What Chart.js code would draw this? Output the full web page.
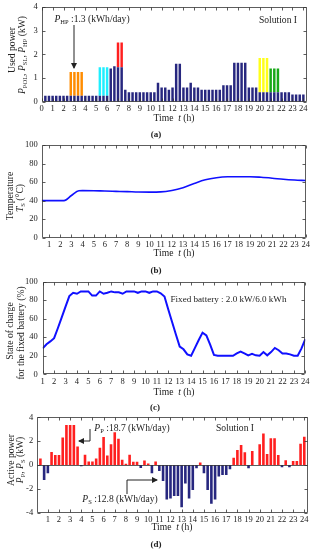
<!DOCTYPE html>
<html><head><meta charset="utf-8">
<script src="https://cdn.jsdelivr.net/npm/chart.js@4.4.1/dist/chart.umd.min.js"></script>
<style>
html,body{margin:0;padding:0;background:#fff;}
body{width:312px;height:550px;position:relative;overflow:hidden;font-family:"Liberation Serif","DejaVu Serif",serif;color:#222;}
canvas{position:absolute;left:0;}
.t{position:absolute;white-space:nowrap;transform:translate(-50%,-50%);font-size:9.6px;line-height:1;}
.r{transform:translate(-50%,-50%) rotate(-90deg);}
.b{font-weight:bold;font-size:9px;}
sub{font-size:68%;vertical-align:-0.3em;line-height:0;font-style:normal;}
i{font-style:italic;}
svg{position:absolute;left:0;top:0;}
</style></head><body>
<canvas id="ca" width="312" height="114" style="top:0px"></canvas>
<canvas id="cb" width="312" height="111" style="top:138px"></canvas>
<canvas id="cc" width="312" height="112" style="top:274px"></canvas>
<canvas id="cd" width="312" height="112" style="top:410px"></canvas>

<div class="t r" style="left:11.5px;top:50px">Used power</div>
<div class="t r" style="left:22px;top:55px"><i>P</i><sub>POL</sub>, <i>P</i><sub>SL</sub>, <i>P</i><sub>HP</sub> (kW)</div>
<div class="t" style="left:174px;top:118px">Time &nbsp;<i>t</i> (h)</div>
<div class="t b" style="left:156px;top:134px">(a)</div>
<div class="t" style="left:92px;top:19px"><i>P</i><sub>HP</sub> :1.3 (kWh/day)</div>
<div class="t" style="left:278px;top:20px">Solution I</div>

<div class="t r" style="left:10px;top:196px">Temperature</div>
<div class="t r" style="left:20px;top:198px"><i>T</i><sub>S</sub> (°C)</div>
<div class="t" style="left:174px;top:253px">Time &nbsp;<i>t</i> (h)</div>
<div class="t b" style="left:156px;top:270px">(b)</div>

<div class="t r" style="left:10px;top:331px">State of charge</div>
<div class="t r" style="left:20.5px;top:333px">for the fixed battery (%)</div>
<div class="t" style="left:174px;top:392px">Time &nbsp;<i>t</i> (h)</div>
<div class="t b" style="left:155px;top:407px">(c)</div>
<div class="t" style="left:228.5px;top:300px;font-size:9.1px">Fixed battery : 2.0 kW/6.0 kWh</div>

<div class="t r" style="left:10.5px;top:460px">Active power</div>
<div class="t r" style="left:19.5px;top:460px"><i>P</i><sub>P</sub>, <i>P</i><sub>S</sub> (kW)</div>
<div class="t" style="left:172px;top:527px">Time &nbsp;<i>t</i> (h)</div>
<div class="t b" style="left:156px;top:544px">(d)</div>
<div class="t" style="left:132px;top:428px"><i>P</i><sub>P</sub> :18.7 (kWh/day)</div>
<div class="t" style="left:120px;top:499px"><i>P</i><sub>S</sub> :12.8 (kWh/day)</div>
<div class="t" style="left:235px;top:428px">Solution I</div>

<svg width="312" height="550" viewBox="0 0 312 550">
<defs><marker id="ah" markerWidth="6" markerHeight="6" refX="5" refY="3" orient="auto" markerUnits="userSpaceOnUse"><path d="M0,0 L6,3 L0,6 z" fill="#222"/></marker></defs>
<line x1="74" y1="25" x2="74" y2="68" stroke="#222" stroke-width="1" marker-end="url(#ah)"/>
<polyline points="90,429 90,441 79,441" fill="none" stroke="#222" stroke-width="1" marker-end="url(#ah)"/>
<polyline points="127,494 127,480 157,480" fill="none" stroke="#222" stroke-width="1" marker-end="url(#ah)"/>
</svg>

<script>
// ---------- Panel (a): used power, 20-min slots (slot n at n/3 h) ----------
const usedPowerBase = [
  0.25,0.25,0.25,0.25,0.25,0.25,0.25,
  0.25,0.25,0.25,0.25,
  0.25,0.25,0.25,0.25,
  0.25,0.25,0.25,
  1.4,1.5,1.45,1.45,0.5,
  0.4,0.4,0.4,0.4,0.4,0.4,0.4,0.4,
  0.8,0.6,0.6,0.5,0.6,1.6,1.6,0.6,0.6,0.8,0.6,0.6,
  0.5,0.5,0.5,0.5,0.5,0.5,
  0.7,0.7,0.7,
  1.65,1.65,1.65,1.65,
  0.6,0.6,0.6,
  0.4,0.4,0.4,
  0.4,0.4,0.4,
  0.4,0.4,0.4,
  0.3,0.3,0.3,0.3
];
const hpSlots = [8,9,10,11];        const hpValues = [1.0,1.0,1.0,1.0];
const cyanSlots = [16,17,18];       const cyanValues = [1.2,1.2,1.2];
const redSlots = [21,22];           const redValues = [1.05,1.05];
const yellowSlots = [60,61,62];     const yellowValues = [1.45,1.45,1.45];
const greenSlots = [63,64,65];      const greenValues = [1.0,1.0,1.0];
const ticksA = [0,1,2,3,4,5,6,7,8,9,10,11,12,13,14,15,16,17,18,19,20,21,22,23,24];

// ---------- Panel (b): temperature ----------
const tempHours  = [0.333,1,2,2.333,3,3.667,4,5,6,7,8,9,10,11,12,13,14,15,16,17,18,19,20,21,22,23,24];
const tempValues = [40,40,40,40,45.5,50.7,50.8,50.7,50.3,50,49.7,49.3,49.2,49.4,51,54,58.5,62.5,64.7,65.7,65.8,65.8,65.2,64.2,63,62.2,61.7];
const ticksB = [1,2,3,4,5,6,7,8,9,10,11,12,13,14,15,16,17,18,19,20,21,22,23,24];

// ---------- Panel (c): SOC of fixed battery, 20-min steps from 1 h ----------
const socValues = [
  28,32.5,35.5,39,50,61.5,73,84.5,88,87,89.5,89.5,89.5,85,85,89.5,87,88,89.5,88.5,88.5,87,
  89.5,89.5,89.5,88,89.5,89.5,88,89.5,89.5,87.5,84,70,56.5,43,30,27,21.5,20,28.5,37,45,42,32,21,
  20,20,20,20,20,22.5,24.5,22.5,20.5,22,20.5,20,24,20.5,24,28.5,26,22.5,22.5,21.5,20,20,28,38
];
const ticksC = [1,2,3,4,5,6,7,8,9,10,11,12,13,14,15,16,17,18,19,20,21,22,23,24];

// ---------- Panel (d): active power, 20-min slots ----------
const activePower = [
  0.55,-1.25,-0.7,1.1,0.83,0.83,2.3,3.35,3.35,3.35,1.55,-0.1,
  0.85,0.3,0.3,0.55,1.45,2.35,0.8,1.75,2.75,2.2,0.45,0.1,
  0.85,0.28,0.28,-0.25,0.38,0.12,-0.7,0.3,-0.5,-1.35,-2.9,-2.8,
  -2.6,-2.6,-3.55,-1.55,-2.8,-2.1,-0.28,0.22,-0.7,-2.1,-3.25,-2.9,
  -0.97,-0.83,-0.83,-0.36,0.61,1.25,1.67,1.06,-0.28,1.17,0,1.75,
  2.64,0.92,2.25,2.25,0.83,-0.19,0.39,-0.19,0.33,0.33,1.78,2.36
];
const ticksD = [1,2,3,4,5,6,7,8,9,10,11,12,13,14,15,16,17,18,19,20,21,22,23,24];

// ---------- styling ----------
const NAVY = '#27277f', RED = '#ff1f1f', ORANGE = '#ff8c00', CYAN = '#1fefff', YELLOW = '#ffff1a', GREEN = '#17a817', BLUE = '#1010ff';
const TICKFONT = {family:'Liberation Serif', size:8.5};

const framePlugin = {
  id:'frame',
  afterDraw(chart){
    const o = chart.options.plugins.frame || {};
    const {ctx, chartArea:a, scales} = chart;
    ctx.save();
    ctx.strokeStyle = '#333'; ctx.lineWidth = 0.8;
    const L = Math.round(a.left)+0.5, R = Math.round(a.right)-0.5, T = Math.round(a.top)+0.5, B = Math.round(a.bottom)-0.5;
    ctx.beginPath();
    ctx.rect(L, T, R-L, B-T);
    const tl = 3;
    scales.x.ticks.forEach(t => {
      const p = Math.round(scales.x.getPixelForValue(t.value))+0.5;
      ctx.moveTo(p,B); ctx.lineTo(p,B-tl);
      ctx.moveTo(p,T); ctx.lineTo(p,T+tl);
    });
    scales.y.ticks.forEach(t => {
      const p = Math.round(scales.y.getPixelForValue(t.value))+0.5;
      ctx.moveTo(L,p); ctx.lineTo(L+tl,p);
      ctx.moveTo(R,p); ctx.lineTo(R-tl,p);
    });
    if (o.zero) {
      const z = Math.round(scales.y.getPixelForValue(0))+0.5;
      ctx.moveTo(L,z); ctx.lineTo(R,z);
    }
    ctx.stroke();
    ctx.restore();
  }
};

function xAxis(min, max, ticks, h){
  return {
    type:'linear', min, max, offset:false,
    grid:{display:false, drawTicks:false}, border:{display:false},
    ticks:{font:TICKFONT, color:'#222', padding:2, maxRotation:0, autoSkip:false, includeBounds:false,
      callback:v => String(v)},
    afterBuildTicks: s => { s.ticks = ticks.map(v => ({value:v})); },
    afterFit: s => { s.height = h; s.paddingLeft = 0; s.paddingRight = 0; }
  };
}
function yAxis(min, max, step, w, pad, stacked){
  return {
    min, max, stacked: !!stacked,
    grid:{display:false, drawTicks:false}, border:{display:false},
    ticks:{font:TICKFONT, color:'#222', padding:pad, stepSize:step, includeBounds:true, callback:v => String(v)},
    afterFit: s => { s.width = w; s.paddingTop = 0; s.paddingBottom = 0; }
  };
}
const common = {responsive:false, animation:false, devicePixelRatio:1, events:[]};

// Panel (a)
const slotPts = (slots, vals) => slots.map((s,i) => ({x:s/3, y:vals[i]}));
const baseSlots = usedPowerBase.map((v,i) => i+1);
new Chart(document.getElementById('ca'), {
  type:'bar',
  data:{datasets:[
    {data:slotPts(baseSlots, usedPowerBase), backgroundColor:NAVY},
    {data:slotPts(hpSlots, hpValues), backgroundColor:ORANGE},
    {data:slotPts(cyanSlots, cyanValues), backgroundColor:CYAN},
    {data:slotPts(redSlots, redValues), backgroundColor:RED},
    {data:slotPts(yellowSlots, yellowValues), backgroundColor:YELLOW},
    {data:slotPts(greenSlots, greenValues), backgroundColor:GREEN}
  ]},
  options:{...common,
    datasets:{bar:{barPercentage:0.68, categoryPercentage:1, grouped:false}},
    layout:{padding:{top:7, right:5, left:0, bottom:0}},
    plugins:{legend:{display:false}, tooltip:{enabled:false}, frame:{}},
    scales:{
      x:{...xAxis(0, 73/3, ticksA, 12.3), stacked:true},
      y:yAxis(0, 4, 0.5, 41.7, 4, true)
    }
  },
  plugins:[framePlugin]
});

// Panel (b)
new Chart(document.getElementById('cb'), {
  type:'line',
  data:{datasets:[{data:tempHours.map((h,i)=>({x:h, y:tempValues[i]})), borderColor:BLUE, borderWidth:1.6, pointRadius:0, cubicInterpolationMode:'monotone'}]},
  options:{...common,
    layout:{padding:{top:7, right:6.3, left:0, bottom:0}},
    plugins:{legend:{display:false}, tooltip:{enabled:false}, frame:{}},
    scales:{
      x:xAxis(1/3, 24, ticksB, 11.3),
      y:yAxis(0, 100, 10, 41.7, 4)
    }
  },
  plugins:[framePlugin]
});

// Panel (c)
new Chart(document.getElementById('cc'), {
  type:'line',
  data:{datasets:[{data:socValues.map((v,i)=>({x:1+i/3, y:v})), borderColor:BLUE, borderWidth:2, pointRadius:0, tension:0}]},
  options:{...common,
    layout:{padding:{top:7.7, right:6.7, left:0, bottom:0}},
    plugins:{legend:{display:false}, tooltip:{enabled:false}, frame:{}},
    scales:{
      x:xAxis(1, 24, ticksC, 11.7),
      y:yAxis(0, 100, 20, 42.7, 5)
    }
  },
  plugins:[framePlugin]
});

// Panel (d)
new Chart(document.getElementById('cd'), {
  type:'bar',
  data:{datasets:[{data:activePower.map((v,i)=>({x:(i+1)/3, y:v})),
    backgroundColor:c => (c.raw && c.raw.y < 0) ? NAVY : RED}]},
  options:{...common,
    datasets:{bar:{barPercentage:0.7, categoryPercentage:1}},
    layout:{padding:{top:7.3, right:4, left:0, bottom:0}},
    plugins:{legend:{display:false}, tooltip:{enabled:false}, frame:{zero:true}},
    scales:{
      x:xAxis(0, 73/3, ticksD, 9.3),
      y:yAxis(-4, 4, 1, 36.7, 3.5)
    }
  },
  plugins:[framePlugin]
});
</script>
</body></html>
